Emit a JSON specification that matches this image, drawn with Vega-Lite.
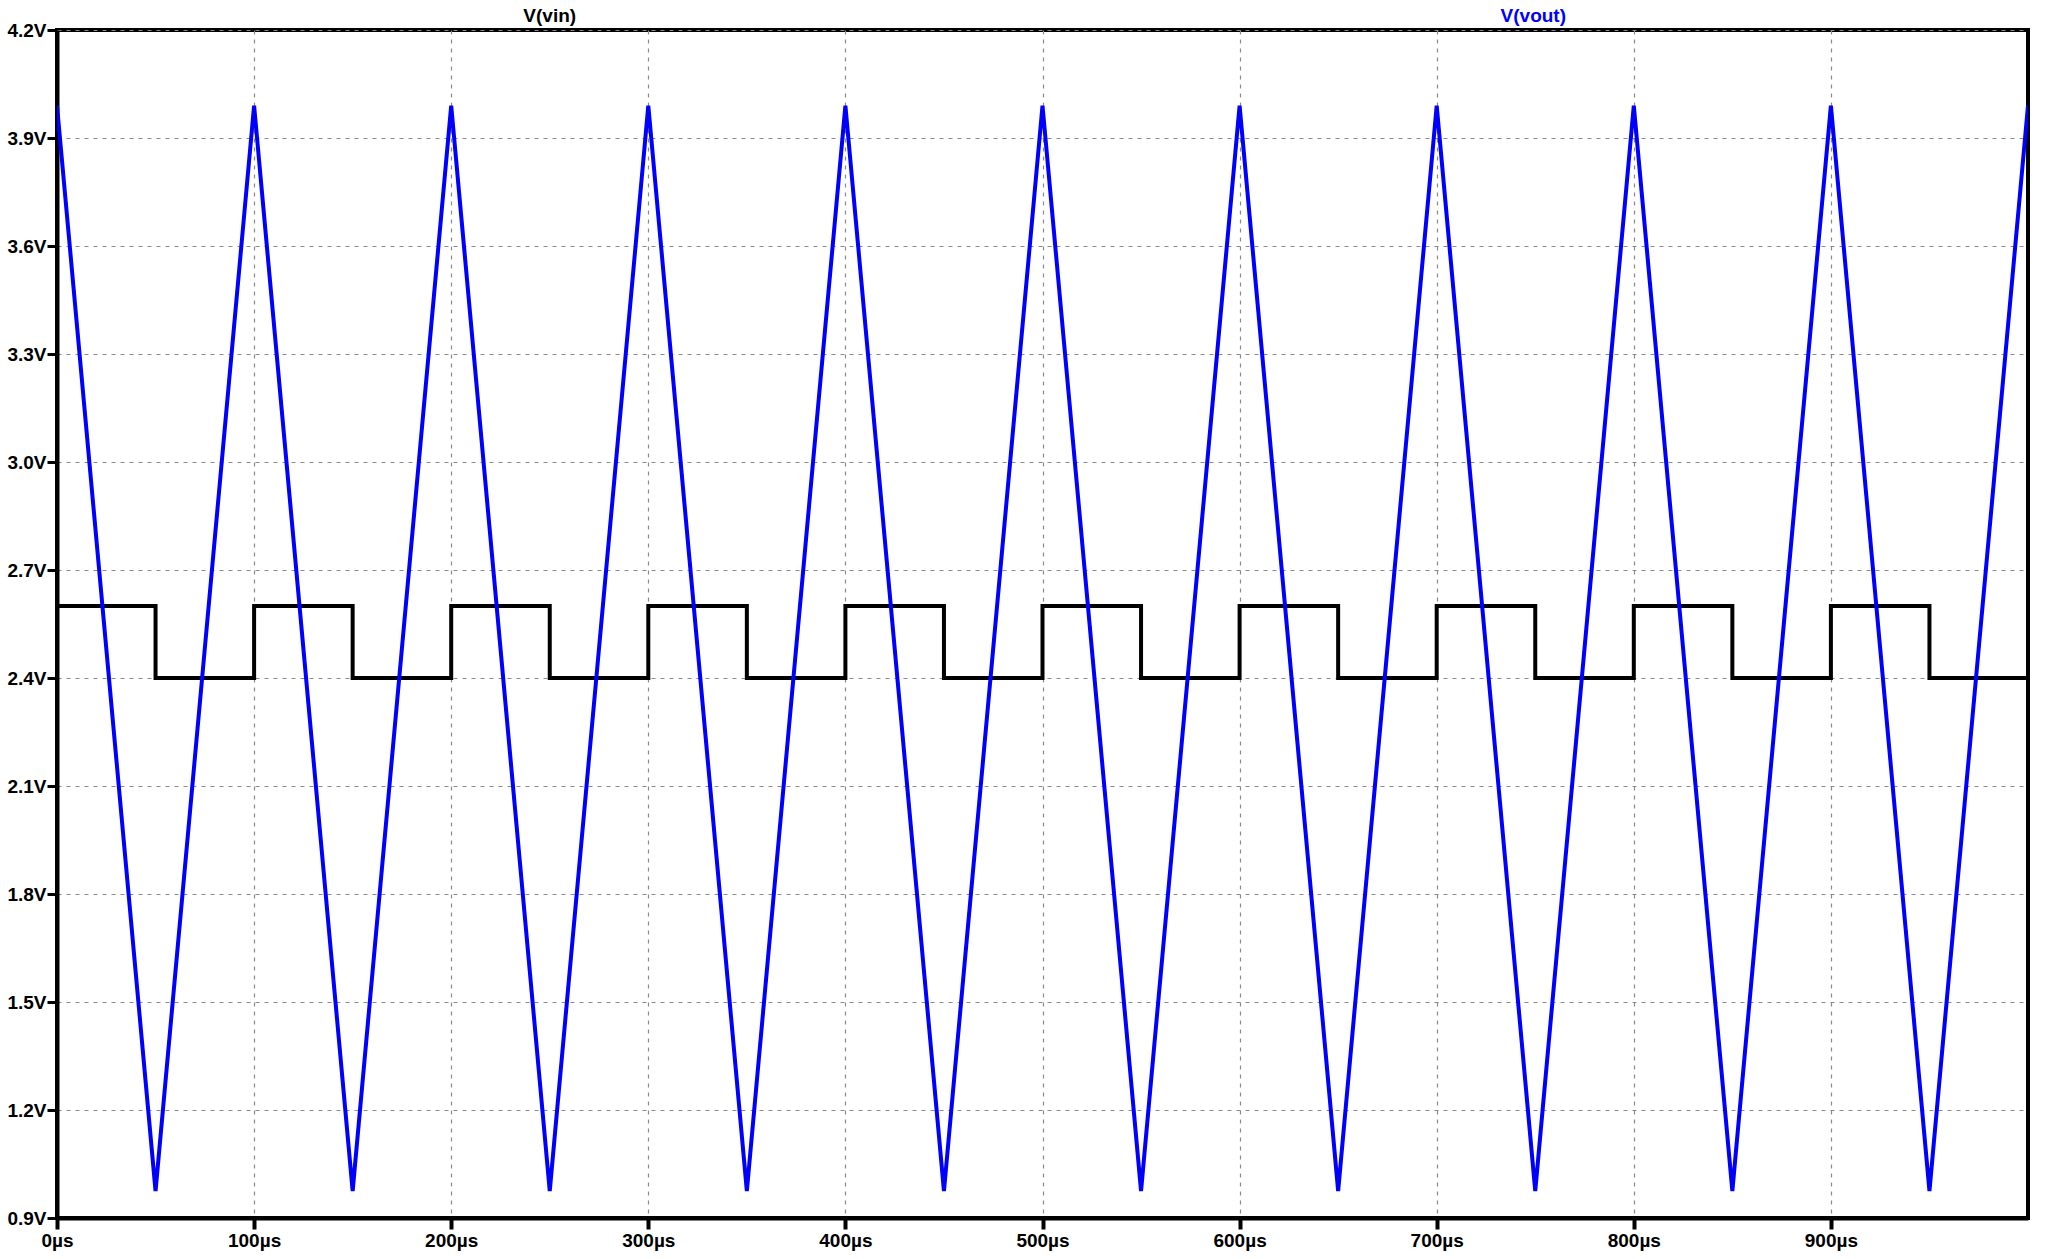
{
  "$schema": "https://vega.github.io/schema/vega-lite/v6.json",
  "width": 1971,
  "height": 1188,
  "autosize": {"type": "none"},
  "padding": {"left": 57, "top": 30, "right": 38, "bottom": 41},
  "background": "#ffffff",
  "config": {
    "view": {"stroke": "#000000", "strokeWidth": 4},
    "font": "Liberation Sans"
  },
  "datasets": {
    "vout": [
      {"t": 0, "v": 3.99}, {"t": 50, "v": 0.975}, {"t": 100, "v": 3.99}, {"t": 150, "v": 0.975},
      {"t": 200, "v": 3.99}, {"t": 250, "v": 0.975}, {"t": 300, "v": 3.99}, {"t": 350, "v": 0.975},
      {"t": 400, "v": 3.99}, {"t": 450, "v": 0.975}, {"t": 500, "v": 3.99}, {"t": 550, "v": 0.975},
      {"t": 600, "v": 3.99}, {"t": 650, "v": 0.975}, {"t": 700, "v": 3.99}, {"t": 750, "v": 0.975},
      {"t": 800, "v": 3.99}, {"t": 850, "v": 0.975}, {"t": 900, "v": 3.99}, {"t": 950, "v": 0.975},
      {"t": 1000, "v": 3.99}
    ],
    "vin": [
      {"t": 0, "v": 2.6}, {"t": 50, "v": 2.4}, {"t": 100, "v": 2.6}, {"t": 150, "v": 2.4},
      {"t": 200, "v": 2.6}, {"t": 250, "v": 2.4}, {"t": 300, "v": 2.6}, {"t": 350, "v": 2.4},
      {"t": 400, "v": 2.6}, {"t": 450, "v": 2.4}, {"t": 500, "v": 2.6}, {"t": 550, "v": 2.4},
      {"t": 600, "v": 2.6}, {"t": 650, "v": 2.4}, {"t": 700, "v": 2.6}, {"t": 750, "v": 2.4},
      {"t": 800, "v": 2.6}, {"t": 850, "v": 2.4}, {"t": 900, "v": 2.6}, {"t": 950, "v": 2.4},
      {"t": 1000, "v": 2.4}
    ],
    "labels": [
      {"t": 250, "label": "V(vin)", "series": "V(vin)"},
      {"t": 749, "label": "V(vout)", "series": "V(vout)"}
    ]
  },
  "layer": [
    {
      "data": {"name": "vin"},
      "mark": {"type": "line", "interpolate": "step-after", "color": "#000000", "strokeWidth": 4, "clip": true},
      "encoding": {
        "x": {
          "field": "t", "type": "quantitative",
          "scale": {"domain": [0, 1000], "nice": false, "zero": false},
          "axis": {
            "title": null,
            "values": [0, 100, 200, 300, 400, 500, 600, 700, 800, 900],
            "labelExpr": "datum.value + 'µs'",
            "labelFont": "Liberation Sans", "labelFontWeight": "bold", "labelFontSize": 19,
            "labelColor": "#000000", "labelPadding": 2,
            "tickColor": "#000000", "tickSize": 11, "tickWidth": 4,
            "domainColor": "#000000", "domainWidth": 4,
            "grid": true, "gridColor": "#8a8a8a", "gridDash": [4, 5], "gridWidth": 1.2,
            "labelFlush": false, "labelOverlap": false
          }
        },
        "y": {
          "field": "v", "type": "quantitative",
          "scale": {"domain": [0.9, 4.2], "nice": false, "zero": false},
          "axis": {
            "title": null,
            "values": [0.9, 1.2, 1.5, 1.8, 2.1, 2.4, 2.7, 3.0, 3.3, 3.6, 3.9, 4.2],
            "labelExpr": "format(datum.value, '.1f') + 'V'",
            "labelFont": "Liberation Sans", "labelFontWeight": "bold", "labelFontSize": 19,
            "labelColor": "#000000", "labelPadding": 1, "labelBaseline": "middle",
            "tickColor": "#000000", "tickSize": 10, "tickWidth": 3,
            "domainColor": "#000000", "domainWidth": 4,
            "grid": true, "gridColor": "#8a8a8a", "gridDash": [4, 5], "gridWidth": 1.2,
            "labelFlush": false, "labelOverlap": false
          }
        }
      }
    },
    {
      "data": {"name": "vout"},
      "mark": {"type": "line", "color": "#0000ff", "strokeWidth": 4, "clip": true},
      "encoding": {
        "x": {"field": "t", "type": "quantitative"},
        "y": {"field": "v", "type": "quantitative"}
      }
    },
    {
      "data": {"name": "labels"},
      "mark": {"type": "text", "font": "Liberation Sans", "fontWeight": "bold", "fontSize": 19, "dy": -14, "baseline": "middle", "align": "center"},
      "encoding": {
        "x": {"field": "t", "type": "quantitative"},
        "y": {"datum": 4.2},
        "text": {"field": "label"},
        "color": {
          "field": "series", "type": "nominal",
          "scale": {"domain": ["V(vin)", "V(vout)"], "range": ["#000000", "#0000ff"]},
          "legend": null
        }
      }
    }
  ]
}
